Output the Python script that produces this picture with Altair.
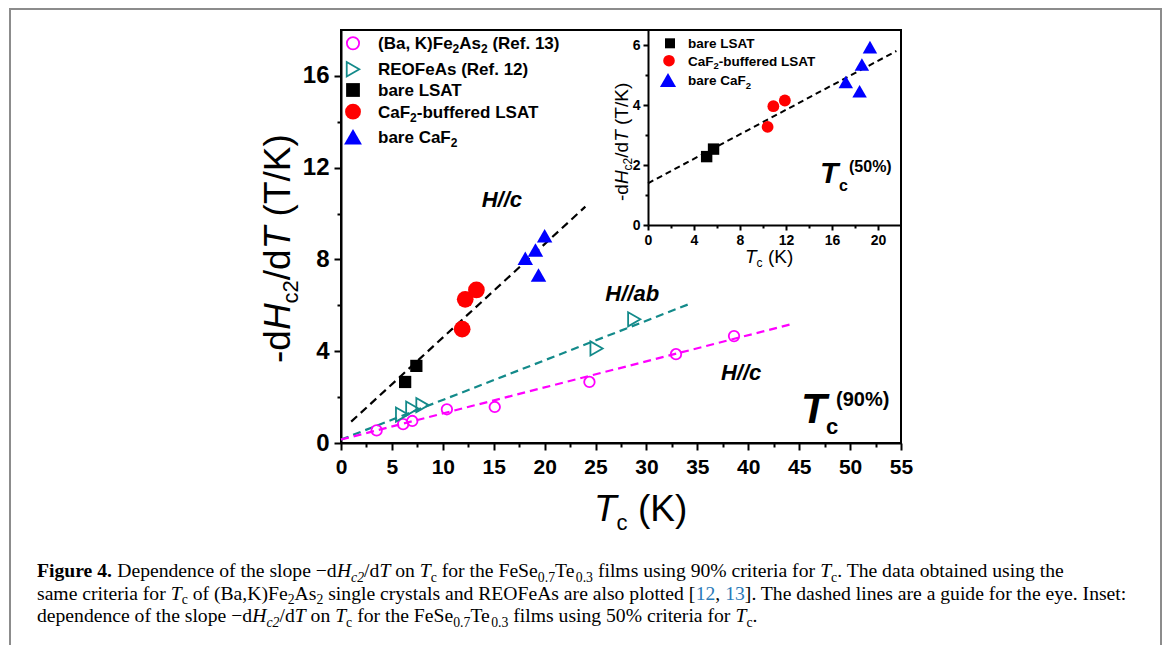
import altair as alt
import pandas as pd

SANS = "Liberation Sans"
SERIF = "Liberation Serif"

# ---------------- data ----------------
# main panel (Tc at 90 % criterion)
bak_tc = [3.5, 6.1, 7.0, 10.4, 15.1, 24.4, 32.9, 38.6]          # (Ba,K)Fe2As2, Ref. 13
bak_slope = [0.55, 0.82, 0.96, 1.47, 1.57, 2.66, 3.87, 4.66]
reo_tc = [6.0, 7.0, 8.0, 25.1, 28.8]                              # REOFeAs, Ref. 12
reo_slope = [1.24, 1.50, 1.65, 4.12, 5.39]
lsat_tc = [6.3, 7.4]                                              # bare LSAT
lsat_slope = [2.66, 3.36]
caflsat_tc = [11.9, 12.2, 13.3]                                   # CaF2-buffered LSAT
caflsat_slope = [4.96, 6.26, 6.67]
caf_tc = [18.1, 19.1, 20.0, 19.4]                                 # bare CaF2
caf_slope = [8.05, 8.41, 9.03, 7.32]

# dashed guides for the eye (end points)
guide_c_tc = [1.0, 24.0]
guide_c_slope = [0.93, 10.3]
guide_ab_tc = [0.0, 34.1]
guide_ab_slope = [0.15, 6.04]
guide_bak_tc = [0.0, 44.5]
guide_bak_slope = [0.15, 5.21]

# inset (Tc at 50 % criterion)
in_lsat_tc = [5.1, 5.7]
in_lsat_slope = [2.28, 2.53]
in_caflsat_tc = [10.4, 10.9, 11.9]
in_caflsat_slope = [3.27, 3.96, 4.15]
in_caf_tc = [17.2, 18.4, 18.6, 19.3]
in_caf_slope = [4.77, 4.46, 5.35, 5.93]
in_guide_tc = [0.0, 21.6]
in_guide_slope = [1.39, 5.80]

# axis ticks
main_x_major = [0, 5, 10, 15, 20, 25, 30, 35, 40, 45, 50, 55]
main_x_minor = [2.5, 7.5, 12.5, 17.5, 22.5, 27.5, 32.5, 37.5, 42.5, 47.5, 52.5]
main_y_major = [0, 4, 8, 12, 16]
main_y_minor = [2, 6, 10, 14]
in_x_major = [0, 4, 8, 12, 16, 20]
in_x_minor = [2, 6, 10, 14, 18]
in_y_major = [0, 2, 4, 6]
in_y_minor = [1, 3, 5]

# ---------------- layout ----------------
OX, OY = 341, 30          # page position of plot origin
W, H = 560, 413           # plot area

MAGENTA = "#ff00ff"
TEAL = "#138a8a"
RED = "#ff0000"
BLUE = "#0000ff"
LINK = "#2a7ab8"


def build(groups):
    d = {}
    for chars, w in groups:
        for c in chars:
            d[c] = w
    return d


AR = build([(" !,./:;Ift", 278), ("ijl", 222), ("()-r", 333), ("cksvxyzJ", 500),
            ("0123456789abdeghnopqu?L", 556), ("+=", 584), ("FTZ", 611),
            ("ABEKPSVXY", 667), ("CDHNRUw", 722), ("GOQ", 778), ("Mm", 833),
            ("%", 889), ("W", 944)])
AB = build([(" ,./Iijl", 278), ("()-:ft", 333), ("r", 389), ("z", 500),
            ("0123456789acesvxykJ", 556), ("bdghnopquFTZL", 611), ("EPSVXY", 667),
            ("ABCDHKNRU", 722), ("GOQw", 778), ("M", 833), ("%m", 889), ("W", 944)])
TR = build([(" ,.", 250), ("/:ijlt", 278), ("()-[]frI", 333), ("sJ", 389), ("acez", 444),
            ("0123456789bdghknopquvxy", 500), ("FPS", 556), ("\u2212", 564), ("ELTZ", 611),
            ("BCR", 667), ("ADGHKNOQUVXYw", 722), ("m", 778), ("%", 833), ("M", 889), ("W", 944)])
TI = dict(TR)
TI.update({"T": 556})
TB = dict(TR)
TB.update(build([("F", 611), ("u", 556), ("r", 444), ("g", 500)]))


def table(s):
    if s["fam"] == SANS:
        return AB if s["bold"] else AR
    if s["bold"]:
        return TB
    return TI if s["it"] else TR


def tw(text, s):
    t = table(s)
    return sum(t.get(c, 550) for c in text) / 1000.0 * s["fs"]


def seg(t, fam=SANS, bold=False, it=False, fs=16, dy=0, col="black"):
    return dict(t=t, fam=fam, bold=bold, it=it, fs=fs, dy=dy, col=col)


rows = []


def rich(segs, x0, y0, angle=0):
    pos = 0.0
    for s in segs:
        text = s["t"]
        lead = len(text) - len(text.lstrip(" "))
        body = text.strip(" ")
        start = pos + tw(" " * lead, s)
        if angle == 0:
            x, y = x0 + start, y0 + s["dy"]
        else:
            x, y = x0 + s["dy"], y0 - start
        if body:
            rows.append(dict(x=x - OX, y=y - OY, t=body, fs=s["fs"], ang=angle,
                             col=s["col"], fam=s["fam"], bold=s["bold"], it=s["it"]))
        pos += tw(text, s)
    return pos


# main axis titles
TF = 37
rich([seg("-d", fs=TF), seg("H", it=True, fs=TF), seg("c2", fs=22, dy=8),
      seg("/d", fs=TF), seg("T", it=True, fs=TF), seg(" (T/K)", fs=TF)], 290, 363, 270)
rich([seg("T", it=True, fs=TF), seg("c", fs=22, dy=9), seg(" (K)", fs=TF)], 594, 521)

# inset axis titles
IF = 19
rich([seg("-d", fs=IF), seg("H", it=True, fs=IF), seg("c2", fs=12, dy=4),
      seg("/d", fs=IF), seg("T", it=True, fs=IF), seg(" (T/K)", fs=IF)], 628, 201, 270)
rich([seg("T", it=True, fs=IF), seg("c", fs=12, dy=4), seg(" (K)", fs=IF)], 745, 263)

# Tc labels
rich([seg("T", bold=True, it=True, fs=42)], 801, 423)
rich([seg("c", bold=True, fs=22)], 826, 434)
rich([seg("(90%)", bold=True, fs=20)], 836, 406)
rich([seg("T", bold=True, it=True, fs=30)], 820, 183)
rich([seg("c", bold=True, fs=16)], 839, 191)
rich([seg("(50%)", bold=True, fs=16)], 849, 172)

# main legend text
LF = 17
sub2 = dict(bold=True, fs=12, dy=4)
leg_rows = [43.3, 69.3, 90.0, 111.7, 136.7]
leg_texts = [
    [seg("(Ba, K)Fe", bold=True, fs=LF), seg("2", **sub2), seg("As", bold=True, fs=LF),
     seg("2", **sub2), seg(" (Ref. 13)", bold=True, fs=LF)],
    [seg("REOFeAs (Ref. 12)", bold=True, fs=LF)],
    [seg("bare LSAT", bold=True, fs=LF)],
    [seg("CaF", bold=True, fs=LF), seg("2", **sub2), seg("-buffered LSAT", bold=True, fs=LF)],
    [seg("bare CaF", bold=True, fs=LF), seg("2", **sub2)],
]
for yc, segs in zip(leg_rows, leg_texts):
    rich(segs, 378, yc + 6)

# inset legend text
SF = 13.5
isub = dict(bold=True, fs=9.5, dy=3.5)
in_leg_rows = [43.3, 60.7, 80.0]
in_leg_texts = [
    [seg("bare LSAT", bold=True, fs=SF)],
    [seg("CaF", bold=True, fs=SF), seg("2", **isub), seg("-buffered LSAT", bold=True, fs=SF)],
    [seg("bare CaF", bold=True, fs=SF), seg("2", **isub)],
]
for yc, segs in zip(in_leg_rows, in_leg_texts):
    rich(segs, 688, yc + 5)

# caption


def cap_lines(f):
    R = lambda t: seg(t, fam=SERIF, fs=f)
    I = lambda t: seg(t, fam=SERIF, it=True, fs=f)
    S = lambda t, it=False: seg(t, fam=SERIF, it=it, fs=0.7 * f, dy=0.25 * f)
    B = lambda t: seg(t, fam=SERIF, bold=True, fs=f)
    L = lambda t: seg(t, fam=SERIF, fs=f, col=LINK)
    l1 = [B("Figure 4."), R(" Dependence of the slope \u2212d"), I("H"), S("c2", True), R("/d"), I("T"),
          R(" on "), I("T"), S("c"), R(" for the FeSe"), S("0.7"), R("Te"), S("0.3"),
          R(" films using 90% criteria for "), I("T"), S("c"), R(". The data obtained using the")]
    l2 = [R("same criteria for "), I("T"), S("c"), R(" of (Ba,K)Fe"), S("2"), R("As"), S("2"),
          R(" single crystals and REOFeAs are also plotted ["), L("12"), R(", "), L("13"),
          R("]. The dashed lines are a guide for the eye. Inset:")]
    l3 = [R("dependence of the slope \u2212d"), I("H"), S("c2", True), R("/d"), I("T"), R(" on "),
          I("T"), S("c"), R(" for the FeSe"), S("0.7"), R("Te"), S("0.3"),
          R(" films using 50% criteria for "), I("T"), S("c"), R(".")]
    return l1, l2, l3


u1 = sum(tw(s["t"], s) for s in cap_lines(1.0)[0])
u2 = sum(tw(s["t"], s) for s in cap_lines(1.0)[1])
CF = min(1071.0 / u1, 1090.0 / u2)
for segs, yb in zip(cap_lines(CF), [577, 599.5, 622]):
    rich(segs, 37, yb)

tdf = pd.DataFrame(rows)

# ---------------- scales & axes ----------------
XS = alt.Scale(domain=[0, 55], nice=False, zero=False)
YS = alt.Scale(domain=[0, 18], nice=False, zero=False)
IXS = alt.Scale(domain=[0, 22], range=[307, 560], nice=False, zero=False)
IYS = alt.Scale(domain=[0, 6.5], range=[195, 0], nice=False, zero=False)

common = dict(title=None, grid=False, tickColor="black", tickWidth=2, domainColor="black",
              domainWidth=2, labelColor="black", labelFont=SANS, labelFontWeight="bold",
              labelOverlap=False, labelFlush=False)
main_xa = alt.Axis(orient="bottom", values=main_x_major, tickSize=7, labelFontSize=21,
                   labelPadding=6, **common)
main_ya = alt.Axis(orient="left", values=main_y_major, tickSize=7, labelFontSize=24,
                   labelPadding=5, **common)
minor_common = dict(title=None, grid=False, labels=False, domain=False, tickColor="black",
                    tickWidth=2)
main_xm = alt.Axis(orient="bottom", values=main_x_minor, tickSize=4, **minor_common)
main_ym = alt.Axis(orient="left", values=main_y_minor, tickSize=4, **minor_common)
in_xa = alt.Axis(orient="bottom", offset=-(H - 195), values=in_x_major, tickSize=5,
                 labelFontSize=14, labelPadding=3, **common)
in_ya = alt.Axis(orient="left", offset=-307, values=in_y_major, tickSize=5,
                 labelFontSize=14, labelPadding=3, **common)
in_xm = alt.Axis(orient="bottom", offset=-(H - 195), values=in_x_minor, tickSize=3,
                 **minor_common)
in_ym = alt.Axis(orient="left", offset=-307, values=in_y_minor, tickSize=3, **minor_common)


def pts(xl, yl, xs, ys, shape, size, color, filled, xaxis=None, yaxis=None, sw=1.8):
    df = pd.DataFrame({"tc": xl, "s": yl})
    return alt.Chart(df).mark_point(shape=shape, size=size, filled=filled, color=color,
                                    strokeWidth=sw, opacity=1).encode(
        x=alt.X("tc:Q", scale=xs, axis=xaxis), y=alt.Y("s:Q", scale=ys, axis=yaxis))


def guide(xl, yl, xs, ys, color, dash, sw=2.2):
    df = pd.DataFrame({"tc": xl, "s": yl})
    return alt.Chart(df).mark_line(color=color, strokeDash=dash, strokeWidth=sw).encode(
        x=alt.X("tc:Q", scale=xs, axis=None), y=alt.Y("s:Q", scale=ys, axis=None))


frame = alt.Chart(pd.DataFrame({"a": [0]})).mark_rect(
    fillOpacity=0, stroke="#8c8c8c", strokeWidth=2).encode(
    x=alt.value(10 - OX), x2=alt.value(1161 - OX), y=alt.value(9 - OY), y2=alt.value(720 - OY))

layers = [frame]
layers += [
    guide(guide_c_tc, guide_c_slope, XS, YS, "black", [8, 5]),
    guide(guide_ab_tc, guide_ab_slope, XS, YS, TEAL, [8, 5]),
    guide(guide_bak_tc, guide_bak_slope, XS, YS, MAGENTA, [8, 5]),
    guide(in_guide_tc, in_guide_slope, IXS, IYS, "black", [6, 4], 2),
]
layers += [
    pts(bak_tc, bak_slope, XS, YS, "circle", 110, MAGENTA, False, main_xa, main_ya),
    pts(reo_tc, reo_slope, XS, YS, "triangle-right", 200, TEAL, False, main_xm, main_ym),
    pts(lsat_tc, lsat_slope, XS, YS, "square", 150, "black", True),
    pts(caflsat_tc, caflsat_slope, XS, YS, "circle", 280, RED, True),
    pts(caf_tc, caf_slope, XS, YS, "triangle-up", 240, BLUE, True),
    pts(in_lsat_tc, in_lsat_slope, IXS, IYS, "square", 130, "black", True, in_xa, in_ya),
    pts(in_caflsat_tc, in_caflsat_slope, IXS, IYS, "circle", 140, RED, True, in_xm, in_ym),
    pts(in_caf_tc, in_caf_slope, IXS, IYS, "triangle-up", 210, BLUE, True),
]

# H//c, H//ab labels placed in data coordinates
lab_df = pd.DataFrame({"tc": [15.8, 28.6, 39.3], "s": [10.3, 6.17, 2.74],
                       "t": ["H//c", "H//ab", "H//c"]})
layers.append(alt.Chart(lab_df).mark_text(font=SANS, fontSize=22, fontWeight="bold",
                                          fontStyle="italic", align="center",
                                          baseline="alphabetic", color="black").encode(
    x=alt.X("tc:Q", scale=XS, axis=None), y=alt.Y("s:Q", scale=YS, axis=None), text="t:N"))

# legend symbols (pixel positions)
leg_sym = [
    (353, 43.3, "circle", 150, MAGENTA, False),
    (353, 69.3, "triangle-right", 210, TEAL, False),
    (353, 90.0, "square", 190, "black", True),
    (353, 111.7, "circle", 250, RED, True),
    (353, 136.7, "triangle-up", 320, BLUE, True),
    (670, 43.3, "square", 100, "black", True),
    (669, 60.7, "circle", 135, RED, True),
    (668, 80.0, "triangle-up", 260, BLUE, True),
]
for (lx, ly, shp, sz, colr, fil) in leg_sym:
    d = pd.DataFrame({"px": [lx - OX], "py": [ly - OY]})
    layers.append(alt.Chart(d).mark_point(shape=shp, size=sz, filled=fil, color=colr,
                                          strokeWidth=1.8, opacity=1).encode(
        x=alt.X("px:Q", scale=None, axis=None), y=alt.Y("py:Q", scale=None, axis=None)))

# rich text layers
for (fam, bold, it), g in tdf.groupby(["fam", "bold", "it"]):
    g = g[["x", "y", "t", "fs", "ang", "col"]].reset_index(drop=True)
    layers.append(alt.Chart(g).mark_text(
        align="left", baseline="alphabetic", font=fam,
        fontWeight="bold" if bold else "normal",
        fontStyle="italic" if it else "normal").encode(
        x=alt.X("x:Q", scale=None, axis=None), y=alt.Y("y:Q", scale=None, axis=None),
        text="t:N", size=alt.Size("fs:Q", scale=None, legend=None),
        angle=alt.Angle("ang:Q", scale=None, legend=None),
        color=alt.Color("col:N", scale=None, legend=None)))

chart = alt.layer(*layers).resolve_scale(x="independent", y="independent").properties(
    width=W, height=H,
    padding={"left": OX - 8, "top": OY - 8, "right": 1155 - (OX - 8) - W, "bottom": 637 - (OY - 8) - H},
    autosize=alt.AutoSizeParams(type="none"),
    background="white",
).configure_view(stroke="black", strokeWidth=2)

chart.save("out.html", embed_options={"renderer": "svg", "actions": False})
